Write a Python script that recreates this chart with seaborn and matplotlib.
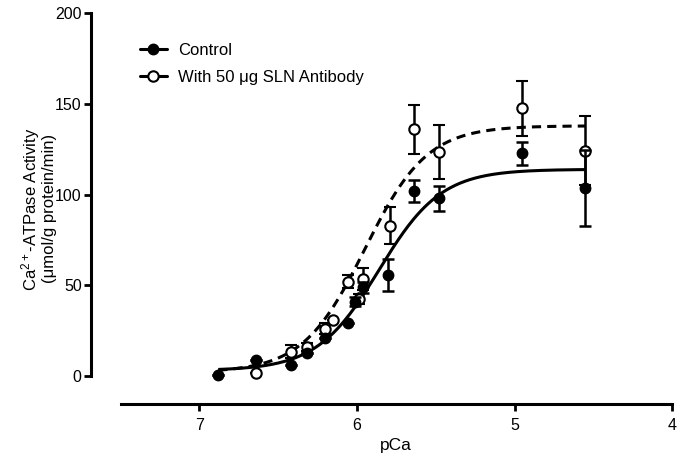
import numpy as np
import pandas as pd
import matplotlib
matplotlib.use("Agg")
import matplotlib.pyplot as plt
from matplotlib.lines import Line2D
import seaborn as sns

sns.set_theme(style="ticks")
plt.rcParams['font.family'] = ['Liberation Sans', 'DejaVu Sans']
plt.rcParams['mathtext.default'] = 'regular'
plt.rcParams['text.color'] = 'black'
plt.rcParams['axes.labelcolor'] = 'black'

# measured points (pCa, activity, SEM)
pca_control = [6.88, 6.64, 6.42, 6.32, 6.20, 6.055, 6.01, 5.96, 5.80, 5.64, 5.48, 4.95, 4.55]
act_control = [0.5, 8.8, 6.0, 12.5, 21.0, 29.0, 41.0, 49.0, 55.7, 102.0, 98.0, 122.8, 103.5]
sem_control = [0, 0, 0, 0, 0, 0, 2.5, 3.0, 8.7, 6.0, 7.0, 6.2, 21.0]

pca_sln = [6.64, 6.42, 6.32, 6.20, 6.15, 6.06, 5.99, 5.96, 5.79, 5.64, 5.48, 4.95, 4.55]
act_sln = [1.5, 13.4, 16.0, 26.0, 31.0, 52.0, 42.5, 53.5, 83.0, 136.0, 123.4, 147.6, 124.3]
sem_sln = [0, 3.7, 2.0, 3.0, 0, 3.5, 3.0, 6.0, 10.0, 13.6, 15.0, 15.0, 19.0]

# sigmoidal fits (bottom, top, pCa50, Hill slope)
fit_control = (3.0, 114.0, 5.86, 2.2)
fit_sln = (2.0, 138.0, 5.95, 2.2)
fit_range = (6.88, 4.55)

labels = ["Control", "With 50 \u03bcg SLN Antibody"]


def hill(x, bottom, top, p50, n):
    return bottom + (top - bottom) / (1 + 10 ** (n * (x - p50)))


xs = np.linspace(fit_range[0], fit_range[1], 300)
curves = pd.concat([
    pd.DataFrame({"pCa": xs, "act": hill(xs, *fit_control), "group": labels[0]}),
    pd.DataFrame({"pCa": xs, "act": hill(xs, *fit_sln), "group": labels[1]}),
])

fig = plt.figure(figsize=(6.83, 4.62), dpi=100)
ax = fig.add_axes([0.1328, 0.1249, 0.984 - 0.1328, 0.971 - 0.1249])

sns.lineplot(data=curves, x="pCa", y="act", hue="group", style="group",
             palette=["black", "black"], dashes=[(1, 0), (3.0, 2.0)],
             linewidth=2.2, legend=False, ax=ax, sort=False, estimator=None)

ax.errorbar(pca_sln, act_sln, yerr=sem_sln, fmt="o", color="black", mfc="white",
            mec="black", mew=1.5, ms=7.5, elinewidth=1.8, capsize=4.5, capthick=1.8, zorder=3)
ax.errorbar(pca_control, act_control, yerr=sem_control, fmt="o", color="black",
            ms=7.5, elinewidth=1.8, capsize=4.5, capthick=1.8, zorder=4)

ax.set_xlim(7.69, 4.0)
ax.set_ylim(-15.6, 200)
ax.set_xticks([7, 6, 5, 4])
ax.set_yticks([0, 50, 100, 150, 200])
ax.spines["left"].set_bounds(0, 200)
ax.spines["bottom"].set_bounds(7.5, 4.0)
for s in ["left", "bottom"]:
    ax.spines[s].set_linewidth(2.2)
    ax.spines[s].set_color("black")
sns.despine(ax=ax)
ax.tick_params(width=2, length=5, labelsize=11.5, colors="black", labelcolor="black")
ax.tick_params(axis="x", pad=5)
ax.tick_params(axis="y", pad=1.5)

ax.set_xlabel("pCa", fontsize=12.5)
ax.xaxis.set_label_coords(0.525, -0.085)
ax.set_ylabel("Ca$^{2+}$-ATPase Activity\n(\u03bcmol/g protein/min)", fontsize=12,
              linespacing=1.0)
ax.yaxis.set_label_coords(-0.058, 0.5)

handles = [
    Line2D([], [], color="black", lw=2.2, marker="o", ms=7.5),
    Line2D([], [], color="black", lw=2.2, marker="o", ms=7.5, mfc="white", mew=1.5),
]
ax.legend(handles, labels, loc="upper left", bbox_to_anchor=(0.183, 0.94),
          bbox_transform=fig.transFigure, frameon=False, fontsize=12,
          handlelength=1.6, handletextpad=0.7, labelspacing=0.75)

fig.savefig("out.png", dpi=100)
